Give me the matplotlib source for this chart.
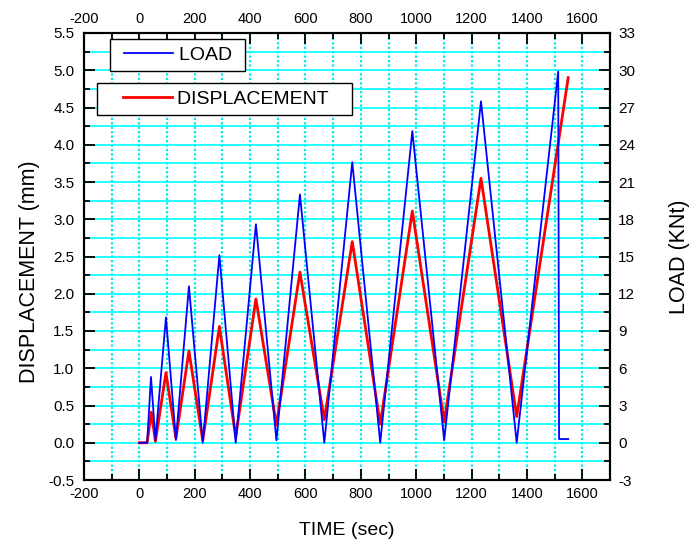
import matplotlib
matplotlib.use("Agg")
from matplotlib import pyplot as plt
from matplotlib.ticker import MultipleLocator
from matplotlib.legend_handler import HandlerLine2D

plt.rcParams['font.family'] = ['Liberation Sans', 'DejaVu Sans']
plt.rcParams['axes.unicode_minus'] = False

# load cycles (kN) - blue, right axis
load_time = [0, 28, 42, 58, 96, 132, 179, 229, 289, 348, 421, 495, 580, 668,
             769, 870, 986, 1101, 1234, 1363, 1513, 1516, 1549]
load_kn = [0, 0, 5.3, 0.2, 10.1, 0.22, 12.6, 0, 15.1, 0, 17.6, 0.2, 20.0, 0,
           22.6, 0, 25.1, 0.2, 27.5, 0, 29.9, 0.3, 0.3]

# displacement (mm) - red, left axis
disp_time = [0, 28, 43, 58, 96, 132, 179, 229, 289, 348, 421, 495, 580, 668,
             769, 870, 986, 1101, 1234, 1363, 1549]
disp_mm = [0, 0, 0.41, 0.02, 0.94, 0.06, 1.23, 0.03, 1.56, 0.08, 1.93, 0.24,
           2.29, 0.31, 2.70, 0.25, 3.11, 0.28, 3.55, 0.35, 4.90]

fig = plt.figure(figsize=(6.96, 5.47), dpi=100)
ax = fig.add_axes([84/696, 1-480/547, 526/696, 447/547])
ax2 = ax.twinx()

ax.plot(disp_time, disp_mm, color='#ff0000', linewidth=2.0, label="DISPLACEMENT   ", zorder=3)
ax2.plot(load_time, load_kn, color='#0000ff', linewidth=1.3, label="LOAD ", zorder=3)

ax.set_xlim(-200, 1700)
ax.set_ylim(-0.5, 5.5)
ax2.set_ylim(-3, 33)

ax.xaxis.set_major_locator(MultipleLocator(200))
ax.xaxis.set_minor_locator(MultipleLocator(100))
ax.yaxis.set_major_locator(MultipleLocator(0.5))
ax.yaxis.set_minor_locator(MultipleLocator(0.25))
ax2.yaxis.set_major_locator(MultipleLocator(3))
ax2.yaxis.set_minor_locator(MultipleLocator(1.5))
ax.yaxis.set_major_formatter(lambda v, p: "{:.1f}".format(v))

# grid
ax.grid(which='both', axis='y', color='#00ffff', linewidth=1.2, linestyle='-', zorder=0)
ax.grid(which='both', axis='x', color='#00e8e8', linewidth=1.6, linestyle=(0, (1, 1)), zorder=0)
ax.set_axisbelow(True)

ax.tick_params(which='both', direction='in', top=True, labeltop=True, width=1.3, labelsize=11)
ax.tick_params(axis='x', labelsize=10.5)
ax.tick_params(which='major', length=8)
ax.tick_params(which='minor', length=4)
ax.tick_params(axis='x', which='major', pad=5)
ax.tick_params(axis='y', which='major', pad=7)
ax2.tick_params(which='both', direction='in', width=1.3, labelsize=11, pad=6)
ax2.tick_params(which='major', length=8)
ax2.tick_params(which='minor', length=4)
for sp in list(ax.spines.values()) + list(ax2.spines.values()):
    sp.set_linewidth(1.5)

ax.set_xlabel("TIME (sec)", fontsize=14, labelpad=15)
ax.set_ylabel("DISPLACEMENT (mm)", fontsize=15.5, labelpad=6)
ax.yaxis.label.set_y(0.466)
ax2.set_ylabel("LOAD (KNt)", fontsize=15.5, labelpad=24)

# two separate legend boxes
fs_px = 14 * 100 / 72
leg1 = ax2.legend(loc='upper left', bbox_to_anchor=(0.049, 0.987), borderaxespad=0,
                  fontsize=14, fancybox=False, edgecolor='black', framealpha=1,
                  handlelength=(49 + 7) / fs_px, handletextpad=0.3, borderpad=0.38,
                  handler_map={ax2.get_lines()[0]: HandlerLine2D(xpad=7 / fs_px)})
leg1.get_frame().set_linewidth(1.0)
leg2 = ax.legend(loc='upper left', bbox_to_anchor=(0.025, 0.888), borderaxespad=0,
                 fontsize=14, fancybox=False, edgecolor='black', framealpha=1,
                 handlelength=(49 + 18) / fs_px, handletextpad=0.3, borderpad=0.38,
                 handler_map={ax.get_lines()[0]: HandlerLine2D(xpad=18 / fs_px)})
leg2.get_frame().set_linewidth(1.0)
leg2.set_zorder(5)

plt.savefig("out.png", dpi=100)
